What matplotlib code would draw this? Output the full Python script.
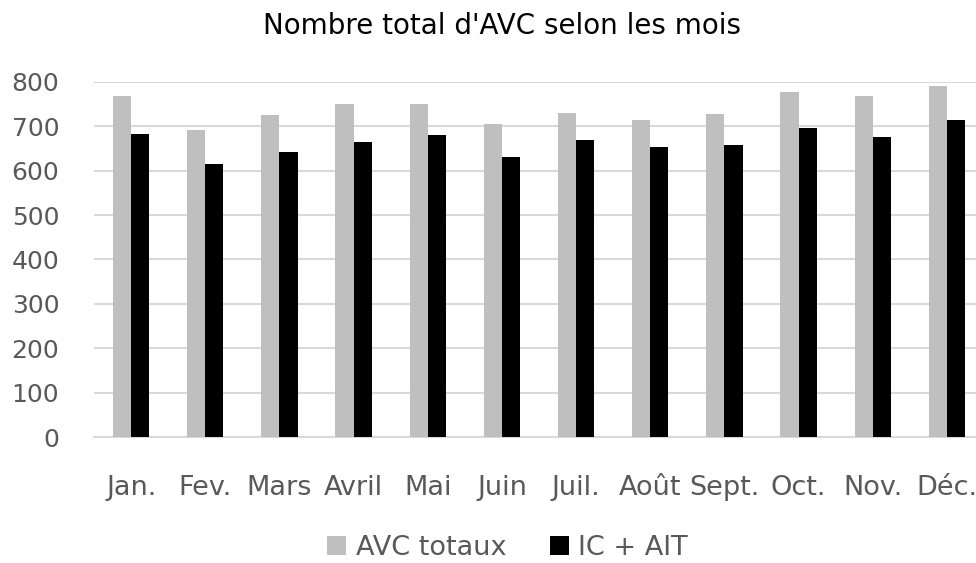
import numpy as np
import matplotlib.pyplot as plt

plt.rcParams['font.family'] = ['DejaVu Sans']

mois = ['Jan.', 'Fev.', 'Mars', 'Avril', 'Mai', 'Juin', 'Juil.', 'Août',
        'Sept.', 'Oct.', 'Nov.', 'Déc.']
avc_totaux = [769, 692, 725, 750, 750, 705, 731, 714, 728, 778, 769, 792]
ic_ait = [683, 616, 642, 664, 680, 632, 670, 654, 657, 696, 676, 714]

fig = plt.figure(figsize=(9.76, 5.63), dpi=100)
ax = fig.add_axes([0.0963, 0.2238, 0.912, 0.6306])

x = np.arange(len(mois))
w = 0.245
ax.bar(x - w / 2, avc_totaux, w, color='#bfbfbf', label='AVC totaux', zorder=3)
ax.bar(x + w / 2, ic_ait, w, color='#000000', label='IC + AIT', zorder=3)

ax.set_xlim(-0.5, len(mois) - 0.5)
ax.set_ylim(0, 800)
ax.set_yticks(range(0, 801, 100))
ax.set_xticks(x)
ax.set_xticklabels(mois)
ax.tick_params(axis='both', length=0)
ax.tick_params(axis='x', pad=27, labelsize=19.5, labelcolor='#595959')
ax.tick_params(axis='y', pad=25, labelsize=18, labelcolor='#595959')

ax.grid(axis='y', color='#d9d9d9', linewidth=1.5, zorder=0)
for s in ['top', 'right', 'left']:
    ax.spines[s].set_visible(False)
ax.spines['bottom'].set_color('#d9d9d9')
ax.spines['bottom'].set_linewidth(1.5)

fig.text(0.514, 0.9396, "Nombre total d'AVC selon les mois", ha='center', va='baseline',
         fontsize=20, color='#000000')

fig.legend(loc='center', bbox_to_anchor=(0.52, 0.027), ncol=2, frameon=False,
           fontsize=19.5, handlelength=0.7, handleheight=0.7, columnspacing=1.6,
           handletextpad=0.35, labelcolor='#595959')

fig.savefig('out.png', dpi=100)
